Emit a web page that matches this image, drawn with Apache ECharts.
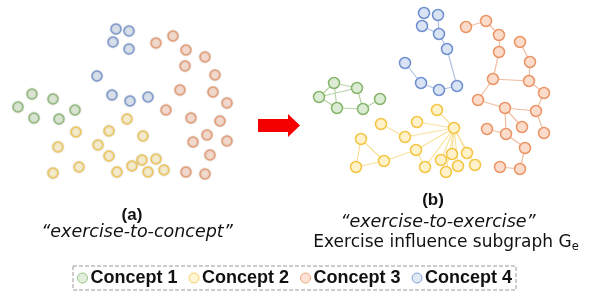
<!DOCTYPE html>
<html lang="en">
<head>
<meta charset="UTF-8">
<title>Concept graph</title>
<script src="https://cdn.jsdelivr.net/npm/echarts@6/dist/echarts.min.js"></script>
<style>
  html, body { margin: 0; padding: 0; background: #fff; }
  #main { width: 595px; height: 295px; }
</style>
</head>
<body>
<div id="main"></div>
<script type="text/javascript">
"use strict";

var conceptNames = ['Concept 1', 'Concept 2', 'Concept 3', 'Concept 4'];

// (a) exercise-to-concept: exercises grouped by concept, positions
var c1Points = [[32, 94], [53, 99], [18, 107], [75, 110], [34, 118], [59, 119]];
var c2Points = [[127, 119], [109, 131], [76, 132], [143, 136], [58, 147], [98, 145], [109, 156],
    [142, 160], [156, 159], [132, 166], [79, 167], [164, 170], [53, 173], [117, 172], [148, 172]];
var c3Points = [[156, 43], [173, 36], [186, 50], [205, 57], [185, 66], [215, 75], [180, 90],
    [213, 92], [227, 103], [166, 110], [191, 118], [220, 121], [207, 135], [193, 142],
    [227, 141], [210, 155], [186, 172], [205, 174]];
var c4Points = [[116, 29], [129, 31], [113, 42], [129, 49], [97, 76], [112, 95], [130, 101], [148, 97]];

// (b) exercise-to-exercise subgraph
var e1Nodes = [[334, 83], [357, 88], [319, 97], [380, 99], [337, 108], [363, 109]];
var e1Links = [[2, 0], [0, 1], [2, 1], [0, 4], [2, 4], [4, 5], [1, 5], [5, 3]];

var e2Nodes = [[437, 110], [417, 122], [381, 124], [454, 128], [405, 137], [361, 139], [416, 150],
    [452, 154], [467, 153], [384, 161], [441, 160], [356, 167], [425, 167], [458, 166],
    [475, 165], [446, 172]];
var e2Links = [[3, 0], [3, 1], [3, 4], [4, 2], [3, 6], [3, 7], [3, 8], [3, 10], [3, 12], [3, 13],
    [3, 14], [3, 15], [6, 9], [5, 9], [5, 11], [11, 9], [6, 12]];

var e3Nodes = [[466, 27], [486, 21], [499, 35], [499, 52], [520, 42], [530, 62], [493, 79],
    [529, 81], [544, 93], [478, 100], [505, 108], [536, 111], [522, 127], [487, 129],
    [506, 134], [544, 133], [525, 148], [500, 167], [520, 169]];
var e3Links = [[0, 1], [1, 2], [2, 3], [3, 6], [4, 5], [5, 7], [6, 7], [7, 8], [8, 11], [6, 9],
    [9, 10], [10, 11], [10, 12], [10, 14], [11, 15], [13, 14], [14, 16], [16, 18], [18, 17]];

var e4Nodes = [[424, 13], [438, 15], [422, 26], [439, 34], [447, 49], [405, 63], [421, 83],
    [439, 90], [457, 86]];
var e4Links = [[2, 3], [1, 3], [3, 4], [4, 8], [8, 7], [7, 6], [6, 5]];

var fills = ['#dcebd3', '#fff1c9', '#fbdccb', '#dae3f3'];
var borders = ['#86b56b', '#f4c542', '#eb9466', '#6e8fd0'];
var edgeColors = ['#b8d4a6', '#f9e19c', '#f0bea2', '#afc1e4'];

var pointSets = [c1Points, c2Points, c3Points, c4Points];
var nodeSets = [e1Nodes, e2Nodes, e3Nodes, e4Nodes];
var linkSets = [e1Links, e2Links, e3Links, e4Links];

var series = [];
pointSets.forEach(function (pts, i) {
    series.push({
        name: conceptNames[i],
        type: 'scatter',
        symbol: 'circle',
        symbolSize: 10,
        data: pts,
        itemStyle: {
            color: fills[i],
            borderColor: borders[i],
            borderWidth: 1.5,
            shadowBlur: 2,
            shadowColor: 'rgba(0,0,0,0.25)'
        },
        silent: true,
        z: 3
    });
});
nodeSets.forEach(function (nodes, i) {
    series.push({
        name: conceptNames[i],
        type: 'graph',
        coordinateSystem: 'cartesian2d',
        layout: 'none',
        symbolSize: 11,
        data: nodes.map(function (p) { return { value: p }; }),
        links: linkSets[i].map(function (l) { return { source: l[0], target: l[1] }; }),
        itemStyle: {
            color: fills[i],
            borderColor: borders[i],
            borderWidth: 1.5
        },
        lineStyle: { color: edgeColors[i], width: 1.2, opacity: 1 },
        silent: true,
        z: 3
    });
});

var myChart = echarts.init(document.getElementById('main'));
var option = {
    animation: false,
    grid: { left: 0, right: 0, top: 0, bottom: 0 },
    xAxis: { type: 'value', min: 0, max: 595, show: false },
    yAxis: { type: 'value', min: 0, max: 295, inverse: true, show: false },
    legend: {
        data: conceptNames.map(function (n, i) {
            return { name: n, itemStyle: { color: fills[i], borderColor: borders[i], borderWidth: 1 } };
        }),
        left: 73,
        top: 266,
        orient: 'horizontal',
        padding: [3, 4],
        itemGap: 11,
        itemWidth: 12,
        itemHeight: 10,
        icon: 'path://M0,5a5,5 0 1,0 10,0a5,5 0 1,0 -10,0z',
        borderColor: '#999',
        borderWidth: 1,
        borderType: 'dashed',
        selectedMode: false,
        textStyle: {
            fontFamily: 'Liberation Sans',
            fontWeight: 'bold',
            fontSize: 18,
            color: '#111',
            padding: [0, 0, 0, -3]
        }
    },
    graphic: [
        {
            type: 'polygon',
            shape: { points: [[258, 119], [288, 119], [288, 114], [300, 125.5], [288, 137], [288, 132], [258, 132]] },
            style: { fill: '#f40000' }
        },
        {
            type: 'text', x: 132, y: 215,
            style: { text: '(a)', fontFamily: 'Liberation Sans', fontWeight: 'bold', fontSize: 17,
                fill: '#111', align: 'center', verticalAlign: 'middle' }
        },
        {
            type: 'text', x: 137, y: 232,
            style: { text: '\u201cexercise-to-concept\u201d', fontFamily: 'DejaVu Sans', fontStyle: 'italic',
                fontSize: 17.5, fill: '#111', align: 'center', verticalAlign: 'middle' }
        },
        {
            type: 'text', x: 433, y: 200,
            style: { text: '(b)', fontFamily: 'Liberation Sans', fontWeight: 'bold', fontSize: 17,
                fill: '#111', align: 'center', verticalAlign: 'middle' }
        },
        {
            type: 'text', x: 438, y: 222,
            style: { text: '\u201cexercise-to-exercise\u201d', fontFamily: 'DejaVu Sans', fontStyle: 'italic',
                fontSize: 17.5, fill: '#111', align: 'center', verticalAlign: 'middle' }
        },
        {
            type: 'text', x: 446, y: 243,
            style: {
                text: '{m|Exercise influence subgraph G}{s|e}',
                align: 'center', verticalAlign: 'middle',
                rich: {
                    m: { fontFamily: 'DejaVu Sans', fontSize: 17, fill: '#111' },
                    s: { fontFamily: 'DejaVu Sans', fontSize: 11.5, fill: '#111', padding: [9, 0, 0, 0] }
                }
            }
        }
    ],
    series: series
};
myChart.setOption(option);
</script>
</body>
</html>
